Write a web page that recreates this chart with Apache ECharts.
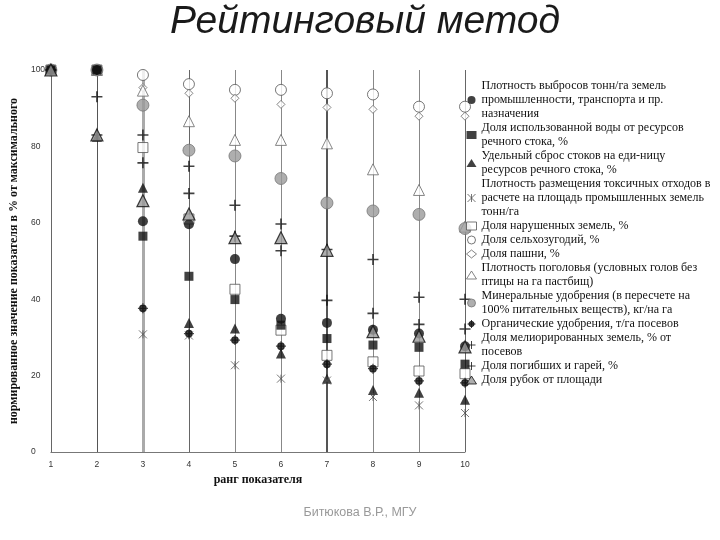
<!DOCTYPE html>
<html><head><meta charset="utf-8">
<script src="https://cdn.jsdelivr.net/npm/echarts@6.0.0/dist/echarts.min.js"></script>
<style>html,body{margin:0;padding:0;background:#fff}#c{width:720px;height:540px}</style>
</head><body><div id="c"></div>
<script>
// ---- data ----
const ranks = [1, 2, 3, 4, 5, 6, 7, 8, 9, 10];
const yTicks = [0, 20, 40, 60, 80, 100];
const seriesNames = [
  'Плотность выбросов тонн/га земель\nпромышленности, транспорта и пр.\nназначения',
  'Доля использованной воды от ресурсов\nречного стока, %',
  'Удельный сброс стоков на еди-ницу\nресурсов речного стока, %',
  'Плотность размещения токсичных отходов в\nрасчете на площадь промышленных земель\nтонн/га',
  'Доля нарушенных земель, %',
  'Доля сельхозугодий, %',
  'Доля пашни, %',
  'Плотность поголовья (условных голов без\nптицы на га пастбищ)',
  'Минеральные удобрения (в пересчете на\n100% питательных веществ), кг/на га',
  'Органические удобрения, т/га посевов',
  'Доля мелиорированных земель, % от\nпосевов',
  'Доля погибших и гарей, %',
  'Доля рубок от площади'
];
const emissions    = [100, 100, 60.4, 59.6, 50.5, 34.9, 33.8, 32.0, 31.0, 27.7];
const waterUse     = [100, 100, 56.5, 46.0, 39.9, 33.2, 29.7, 28.0, 27.4, 23.0];
const discharge    = [100, 82.5, 69.2, 33.8, 32.3, 25.8, 19.2, 16.2, 15.5, 13.7];
const toxicWaste   = [100, 100, 30.8, 30.5, 22.7, 19.2, 18.7, 14.4, 12.2, 10.2];
const disturbed    = [100, 100, 79.7, 61.0, 42.6, 31.9, 25.3, 23.6, 21.2, 20.5];
const farmland     = [100, 100, 98.7, 96.3, 94.8, 94.8, 93.9, 93.6, 90.4, 90.4];
const arable       = [100, 100, 95.4, 93.9, 92.6, 91.0, 90.2, 89.7, 87.9, 87.9];
const livestock    = [100, 100, 94.6, 86.6, 81.7, 81.7, 80.8, 74.0, 68.6, 59.0];
const mineralFert  = [100, 100, 90.8, 79.0, 77.5, 71.6, 65.2, 63.1, 62.2, 58.5];
const organicFert  = [100, 100, 37.6, 31.0, 29.3, 27.7, 23.0, 21.8, 18.6, 18.1];
const irrigated    = [100, 93.0, 83.0, 74.8, 64.6, 59.7, 53.0, 50.4, 40.5, 40.0];
const burned       = [100, 83.0, 75.7, 67.7, 56.5, 52.7, 39.7, 36.3, 33.4, 32.2];
const logging      = [100, 83.0, 65.8, 62.3, 56.1, 56.1, 52.8, 31.5, 30.3, 27.5];

const allValues = [emissions, waterUse, discharge, toxicWaste, disturbed, farmland, arable,
  livestock, mineralFert, organicFert, irrigated, burned, logging];

// ---- styles ----
const P_AST = 'path://M0,0L10,10M10,0L0,10M5,0L5,10';
const P_PLUS = 'path://M5,0L5,10M0,5L10,5';
const P_STAR = 'path://M5,0L5,10M0,5L10,5M8.3,5A3.3,3.3,0,1,1,1.7,5A3.3,3.3,0,1,1,8.3,5Z';
const styles = [
  {symbol: 'circle', size: 10, item: {color: '#111'}, z: 3},
  {symbol: 'rect', size: 9, item: {color: '#111'}, z: 4},
  {symbol: 'triangle', size: 10, item: {color: '#111'}, z: 2},
  {symbol: P_AST, size: 8, item: {color: 'rgba(0,0,0,0)', borderColor: '#555', borderWidth: 1}, z: 2},
  {symbol: 'rect', size: 10, item: {color: '#fff', borderColor: '#555', borderWidth: 1}, z: 2},
  {symbol: 'circle', size: 11, item: {color: '#fff', borderColor: '#555', borderWidth: 1}, z: 2},
  {symbol: 'diamond', size: 8, item: {color: '#fff', borderColor: '#666', borderWidth: 1}, z: 2},
  {symbol: 'triangle', size: 11, item: {color: '#fff', borderColor: '#666', borderWidth: 1}, z: 2},
  {symbol: 'circle', size: 12, item: {color: '#9a9a9a', borderColor: '#777', borderWidth: 1}, z: 2},
  {symbol: P_STAR, size: 10, item: {color: '#111', borderColor: '#111', borderWidth: 1.2}, z: 2},
  {symbol: P_PLUS, size: 11, item: {color: 'rgba(0,0,0,0)', borderColor: '#111', borderWidth: 1.6}, z: 2},
  {symbol: P_PLUS, size: 11, item: {color: 'rgba(0,0,0,0)', borderColor: '#111', borderWidth: 1.6}, z: 2},
  {symbol: 'triangle', size: 12, item: {color: '#9a9a9a', borderColor: '#111', borderWidth: 1.2}, z: 5}
];
const rankLine = {
  1: {color: '#666', width: 1}, 2: {color: '#555', width: 1}, 3: {color: '#aaa', width: 3},
  4: {color: '#666', width: 1}, 5: {color: '#888', width: 1}, 6: {color: '#888', width: 1},
  7: {color: '#555', width: 2}, 8: {color: '#888', width: 1}, 9: {color: '#888', width: 1},
  10: {color: '#666', width: 1}
};

const series = seriesNames.map((name, i) => {
  const st = styles[i];
  const s = {
    type: 'scatter', name: name,
    data: ranks.map((r, k) => [r, allValues[i][k]]),
    symbol: st.symbol, symbolSize: st.size, itemStyle: st.item, z: st.z,
    emphasis: {disabled: true}
  };
  if (i === 0) {
    s.markLine = {
      silent: true, z: 1, symbol: ['none', 'none'], label: {show: false}, animation: false,
      data: ranks.map(r => ({xAxis: r, lineStyle: {type: 'solid', color: rankLine[r].color, width: rankLine[r].width}}))
    };
  }
  return s;
});

const chart = echarts.init(document.getElementById('c'), null, {renderer: 'canvas'});
chart.setOption({
  animation: false,
  backgroundColor: '#fff',
  title: {
    text: 'Рейтинговый метод', left: 170, top: 3, padding: 0,
    textStyle: {fontSize: 39, fontStyle: 'italic', fontWeight: 'normal', fontFamily: 'Liberation Sans', color: '#1a1a1a'}
  },
  graphic: [{
    type: 'text', left: 'center', top: 506,
    style: {text: 'Битюкова В.Р., МГУ', fill: '#999', font: '12.5px "Liberation Sans"', x: 5}
  }],
  legend: {
    orient: 'vertical', left: 466, top: 79, padding: 0, itemGap: 0, itemWidth: 10, itemHeight: 8,
    selectedMode: false, data: seriesNames,
    itemStyle: {borderWidth: 1},
    textStyle: {fontFamily: 'Liberation Serif', fontSize: 12, lineHeight: 14, color: '#111'}
  },
  grid: {left: 49, right: 255, top: 70, bottom: 88},
  xAxis: {
    type: 'value', min: 1, max: 10, interval: 1,
    name: 'ранг показателя', nameLocation: 'middle', nameGap: 15,
    nameTextStyle: {fontFamily: 'Liberation Serif', fontWeight: 'bold', fontSize: 12, color: '#111'},
    axisLine: {lineStyle: {color: '#777'}}, axisTick: {show: false}, splitLine: {show: false},
    axisLabel: {fontSize: 8.5, color: '#333', margin: 8, fontFamily: 'Liberation Sans',
      formatter: v => ranks.includes(v) ? String(v) : ''}
  },
  yAxis: {
    type: 'value', min: yTicks[0], max: yTicks[yTicks.length - 1], interval: 20,
    name: 'нормированное значение показателя в % от максимального', nameLocation: 'middle', nameGap: 24,
    nameRotate: 90,
    nameTextStyle: {fontFamily: 'Liberation Serif', fontWeight: 'bold', fontSize: 12, color: '#111'},
    axisLine: {show: false}, axisTick: {show: false}, splitLine: {show: false},
    axisLabel: {fontSize: 8.5, color: '#333', margin: 20, align: 'left', fontFamily: 'Liberation Sans',
      formatter: v => yTicks.includes(v) ? String(v) : ''}
  },
  series: series
});
</script></body></html>
